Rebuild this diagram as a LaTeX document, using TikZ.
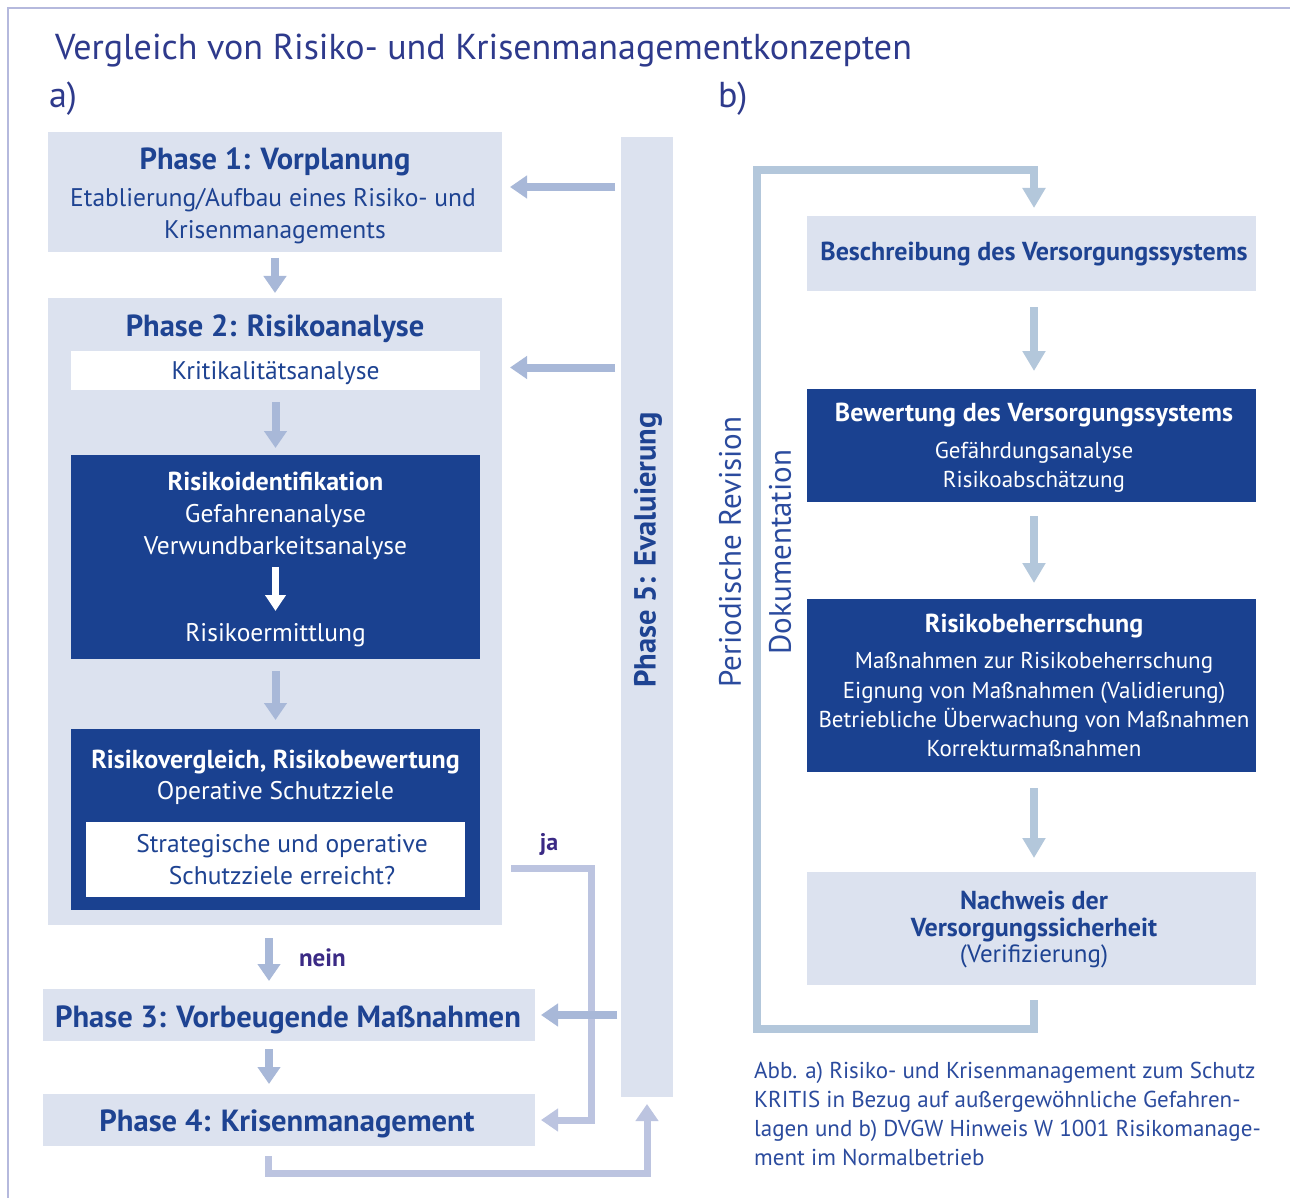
\documentclass[tikz,border=0pt]{standalone}
\usepackage{fontspec}
\setmainfont{PT Sans}
\usetikzlibrary{arrows.meta}
\definecolor{lightbox}{HTML}{DCE2EF}
\definecolor{darkbox}{HTML}{1A4190}
\definecolor{txtblue}{HTML}{1E4392}
\definecolor{titleblue}{HTML}{2E3A8C}
\definecolor{arrowblue}{HTML}{A8B8D8}
\definecolor{jablue}{HTML}{BCC4E0}
\definecolor{loopblue}{HTML}{B3C7DB}
\definecolor{purp}{HTML}{3B2A85}
\definecolor{framec}{HTML}{B5B9DD}
\definecolor{rotblue}{HTML}{2B4B9E}
\newcommand{\fsz}[1]{\fontsize{#1}{#1}\selectfont}
\begin{document}
\begin{tikzpicture}[x=1pt,y=-1pt,
  lbox/.style={fill=lightbox, draw=none, inner sep=0pt, outer sep=0pt},
  dbox/.style={fill=darkbox, draw=none, inner sep=0pt, outer sep=0pt},
  wbox/.style={fill=white, draw=none, inner sep=0pt, outer sep=0pt},
  txt/.style={anchor=base, inner sep=0pt, outer sep=0pt, text=txtblue},
  wtxt/.style={anchor=base, inner sep=0pt, outer sep=0pt, text=white},
  head/.style={font=\fsz{30.5}\bfseries},
  body/.style={font=\fsz{25.5}},
  lbold/.style={font=\fsz{26}\bfseries},
  rbold/.style={font=\fsz{26}\bfseries},
  rbody/.style={font=\fsz{23}},
  arr/.style={draw=arrowblue, line width=8pt, -{Triangle[width=22pt,length=17pt]}},
  warr/.style={draw=white, line width=7pt, -{Triangle[width=20pt,length=16pt]}},
  jarr/.style={draw=jablue, line width=7pt, line join=miter, -{Triangle[width=22pt,length=17pt]}},
  larr/.style={draw=loopblue, line width=8pt, line join=miter, -{Triangle[width=22pt,length=20pt]}},
]
\useasboundingbox (0,0) rectangle (1290,1198);
\fill[white] (0,0) rectangle (1290,1198);
% frame
\draw[framec, line width=2.5pt] (8,1198) -- (8,8) -- (1290,8);
% title
\node[txt, anchor=base west, text=titleblue, font=\fsz{36}] (title) at (55,60) {Vergleich von Risiko- und Krisenmanagementkonzepten};
\node[txt, anchor=base west, text=titleblue, font=\fsz{36}] (la) at (49,108) {a)};
\node[txt, anchor=base west, text=titleblue, font=\fsz{36}] (lb) at (718,108) {b)};

% ---------- a) ----------
\node[lbox, minimum width=454pt, minimum height=120pt] (p1) at (275,192) {};
\node[txt, head] (p1h) at (275,170) {Phase 1: Vorplanung};
\node[txt, body] (p1a) at (273,207) {Etablierung/Aufbau eines Risiko- und};
\node[txt, body] (p1b) at (275,239) {Krisenmanagements};

\node[lbox, minimum width=454pt, minimum height=627pt] (p2) at (275,611.5) {};
\node[txt, head] (p2h) at (275,336) {Phase 2: Risikoanalyse};
\node[wbox, minimum width=409pt, minimum height=39pt] (krit) at (275.5,370.5) {};
\node[txt, body] (kritt) at (275.5,379) {Kritikalitätsanalyse};

\node[dbox, minimum width=409pt, minimum height=204pt] (rid) at (275.5,557) {};
\node[wtxt, lbold] (rid1) at (275.5,490) {Risikoidentifikation};
\node[wtxt, body] (rid2) at (275.5,522) {Gefahrenanalyse};
\node[wtxt, body] (rid3) at (275.5,554) {Verwundbarkeitsanalyse};
\node[wtxt, body] (rid4) at (275.5,641) {Risikoermittlung};
\draw[warr] (rid3.south |- 0,567) -- (rid4.north |- 0,611);

\node[dbox, minimum width=409pt, minimum height=181pt] (rv) at (275.5,819.5) {};
\node[wtxt, lbold] (rv1) at (275.5,768) {Risikovergleich, Risikobewertung};
\node[wtxt, body] (rv2) at (275.5,799) {Operative Schutzziele};
\node[wbox, minimum width=379pt, minimum height=75pt] (sz) at (275.5,859.5) {};
\node[txt, body] (sz1) at (282,852) {Strategische und operative};
\node[txt, body] (sz2) at (282,884) {Schutzziele erreicht?};

\draw[arr] ([yshift=-6pt]p1.south) -- ([yshift=5pt]p2.north);
\draw[arr] ([yshift=-12pt]krit.south) -- ([yshift=7pt]rid.north);
\draw[arr] ([yshift=-12pt]rid.south) -- ([yshift=9pt]rv.north);

\node[lbox, minimum width=492pt, minimum height=52pt] (p3) at (289,1015) {};
\node[txt, font=\fsz{30.6}\bfseries] (p3t) at (288,1027) {Phase 3: Vorbeugende Maßnahmen};
\node[lbox, minimum width=492pt, minimum height=52pt] (p4) at (289,1120) {};
\node[txt, font=\fsz{30.6}\bfseries] (p4t) at (287,1131) {Phase 4: Krisenmanagement};

\draw[arr] (269,938) -- (269,981);
\node[txt, anchor=base west, text=purp, font=\fsz{25}\bfseries] (nein) at (299,966) {nein};
\draw[arr] (269,1049) -- (269,1084);

% Phase 5
\node[lbox, minimum width=52pt, minimum height=960pt] (p5) at (647,617) {};
\node[rotate=90, inner sep=0pt, text=txtblue, font=\fsz{30.5}\bfseries] (p5t) at (648,550) {Phase 5: Evaluierung};

\draw[arr] ([xshift=-6pt,yshift=5pt]p5.west |- p1.east) -- ([xshift=8pt,yshift=5pt]p1.east);
\draw[arr] ([xshift=-6pt,yshift=3pt]p5.west |- krit.east) -- ([xshift=8pt,yshift=3pt]p2.east |- krit.east);

% ja
\node[txt, anchor=base, text=purp, font=\fsz{24}\bfseries] (ja) at (549,850) {ja};
\coordinate (ja0) at (511,868);
\coordinate (ja1) at (591,868);
\draw[jarr] (ja0) -- (ja1) -- (ja1 |- p4.east) -- ([xshift=6pt]p4.east);
\draw[arr] ([xshift=-4pt]p5.west |- p3.east) -- ([xshift=6pt]p3.east);
\coordinate (bt) at (268,1173);
\draw[jarr] ([yshift=-10pt]p4.south -| bt) -- (bt) -- (bt -| p5.south) -- ([yshift=-7pt]p5.south);

% ---------- b) ----------
\node[lbox, minimum width=449pt, minimum height=75pt] (bs) at (1031.5,253.5) {};
\node[txt, rbold] (bst) at (1034,261) {Beschreibung des Versorgungssystems};
\node[dbox, minimum width=449pt, minimum height=113pt] (bw) at (1031.5,445.5) {};
\node[wtxt, rbold] (bw1) at (1034,421) {Bewertung des Versorgungssystems};
\node[wtxt, rbody] (bw2) at (1034,458) {Gefährdungsanalyse};
\node[wtxt, rbody] (bw3) at (1034,487) {Risikoabschätzung};
\node[dbox, minimum width=449pt, minimum height=173pt] (rb) at (1031.5,685.5) {};
\node[wtxt, rbold] (rb1) at (1034,632) {Risikobeherrschung};
\node[wtxt, rbody] (rb2) at (1034,668) {Maßnahmen zur Risikobeherrschung};
\node[wtxt, rbody] (rb3) at (1034,698) {Eignung von Maßnahmen (Validierung)};
\node[wtxt, rbody] (rb4) at (1034,727) {Betriebliche Überwachung von Maßnahmen};
\node[wtxt, rbody] (rb5) at (1034,756) {Korrekturmaßnahmen};
\node[lbox, minimum width=449pt, minimum height=113pt] (nw) at (1031.5,928.5) {};
\node[txt, rbold] (nw1) at (1034,909) {Nachweis der};
\node[txt, rbold] (nw2) at (1034,936) {Versorgungssicherheit};
\node[txt, font=\fsz{25}] (nw3) at (1034,962) {(Verifizierung)};

\coordinate (lx) at (1034,0);
\draw[larr] (lx |- bs.south) ++(0,16) -- ([yshift=18pt]lx |- bw.north);
\draw[larr] (lx |- bw.south) ++(0,14) -- ([yshift=16pt]lx |- rb.north);
\draw[larr] (lx |- rb.south) ++(0,16) -- ([yshift=14pt]lx |- nw.north);
\coordinate (lb0) at (757,1029);
\coordinate (lt0) at (757,170);
\draw[larr] ([yshift=-15pt]lx |- nw.south) -- (lx |- lb0) -- (lb0) -- (lt0) -- (lx |- lt0) -- ([yshift=8pt]lx |- bs.north);

\node[rotate=90, inner sep=0pt, text=rotblue, font=\fsz{31}] (rev) at (730,552) {Periodische Revision};
\node[rotate=90, inner sep=0pt, text=rotblue, font=\fsz{31}] (dok) at (780,552) {Dokumentation};

% caption
\node[anchor=north west, inner sep=0pt, text=rotblue, font=\fontsize{23}{29}\selectfont, align=left] (cap) at (754,1062)
 {Abb. a) Risiko- und Krisenmanagement zum Schutz\\KRITIS in Bezug auf außergewöhnliche Gefahren-\\lagen und b) DVGW Hinweis W 1001 Risikomanage-\\ment im Normalbetrieb};
\end{tikzpicture}
\end{document}
